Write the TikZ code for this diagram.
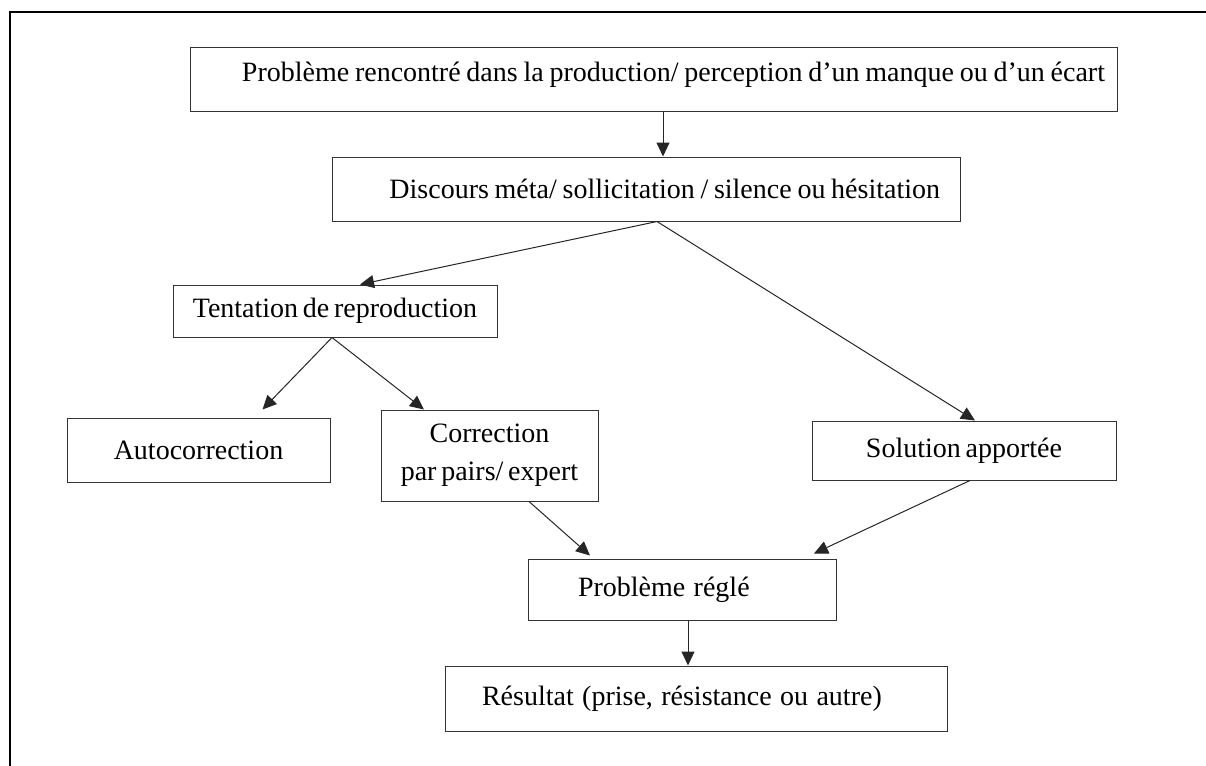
\documentclass[tikz,border=0pt]{standalone}
\usepackage{fontspec}
\setmainfont{Liberation Serif}
\usetikzlibrary{arrows.meta}
\newcommand\boxfont{\fontsize{14}{19}\selectfont}
\newcommand\tightspace{\spaceskip=0.17em plus 0.05em minus 0.03em\relax}
\newcommand\widespace{\spaceskip=0.3em plus 0.05em minus 0.03em\relax}

\begin{document}
\begin{tikzpicture}[x=0.5pt, y=-0.5pt,
    every node/.style={shape=rectangle, draw=black!80, line width=0.5pt,
                  inner sep=0pt, font=\boxfont, execute at begin node=\tightspace},
    wide/.style={execute at begin node=\widespace},
    arr/.style={draw=black!85, line width=0.5pt, -{Triangle[length=7pt,width=6.5pt]}}]
  \useasboundingbox (0,0) rectangle (1206,766);
  \draw[line width=1pt] (10,766) -- (10,12) -- (1206,12);

  \node[minimum height=32pt, text width=451.5pt, text depth=7pt, inner xsep=6pt, align=right] (probleme) at (653.5,79)
      {Problème rencontré dans la production/ perception d’un manque ou d’un écart};
  \node[minimum height=32pt, text width=294pt, inner xsep=10pt, align=right] (discours) at (646,189)
      {Discours méta/ sollicitation / silence ou hésitation};
  \node[minimum width=162pt, minimum height=26pt] (tentation) at (335,311) {Tentation de reproduction};
  \node[minimum width=131.5pt, minimum height=32pt] (auto) at (198.5,450) {Autocorrection};
  \node[minimum width=108.5pt, minimum height=45.5pt, align=center] (correction) at (489.5,455.5)
      {Correction\\par pairs/ expert};
  \node[minimum width=152pt, minimum height=29.5pt] (solution) at (964,450.5) {Solution apportée};
  \node[wide, minimum height=30.5pt, text width=104pt, inner xsep=25pt, align=left] (regle) at (682,589.5)
      {Problème réglé};
  \node[wide, minimum height=32.5pt, text width=214pt, inner xsep=18.5pt, align=left] (resultat) at (696,698.5)
      {Résultat (prise, résistance ou autre)};

  \draw[arr] ([xshift=4.75pt]probleme.south) -- ([xshift=4.75pt]probleme.south |- discours.north);
  \draw[arr] ([xshift=5.5pt]discours.south) -- ([xshift=12.5pt]tentation.north);
  \draw[arr] ([xshift=5.5pt]discours.south) -- ([xshift=5.5pt]solution.north);
  \draw[arr] ([xshift=-1.5pt]tentation.south) -- ([xshift=32pt,yshift=4pt]auto.north);
  \draw[arr] ([xshift=-1.5pt]tentation.south) -- ([xshift=-32.75pt]correction.north);
  \draw[arr] ([xshift=19.75pt]correction.south) -- ([xshift=-46pt,yshift=1.5pt]regle.north);
  \draw[arr] ([xshift=3pt]solution.south) -- ([xshift=66pt,yshift=2.5pt]regle.north);
  \draw[arr] ([xshift=3pt]regle.south) -- ([xshift=3pt]regle.south |- resultat.north);
\end{tikzpicture}
\end{document}
